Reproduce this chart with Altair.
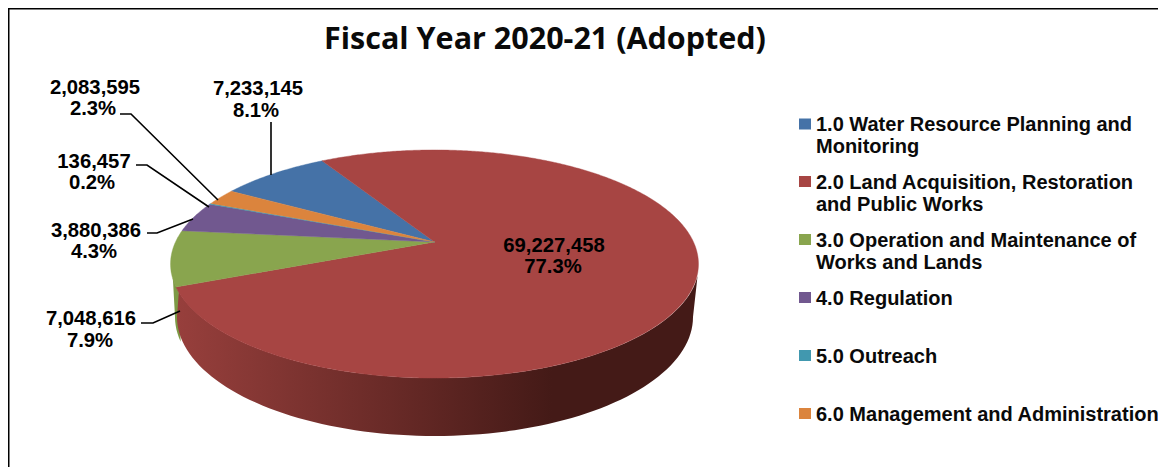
import math
import altair as alt
import pandas as pd

names = ["1.0 Water Resource Planning and Monitoring",
         "2.0 Land Acquisition, Restoration and Public Works",
         "3.0 Operation and Maintenance of Works and Lands",
         "4.0 Regulation", "5.0 Outreach", "6.0 Management and Administration"]
values = [7233145, 69227458, 7048616, 3880386, 136457, 2083595]
colors = ["#4572A7", "#A74543", "#89A54E", "#71588F", "#4198AF", "#DB843D"]
legend_lines = [["1.0 Water Resource Planning and", "Monitoring"],
                ["2.0 Land Acquisition, Restoration", "and Public Works"],
                ["3.0 Operation and Maintenance of", "Works and Lands"],
                ["4.0 Regulation"], ["5.0 Outreach"], ["6.0 Management and Administration"]]
title_text = "Fiscal Year 2020-21 (Adopted)"

W, H = 1150, 459
total = sum(values)
X = alt.X("x:Q", scale=alt.Scale(domain=[8, 8 + W], nice=False, zero=False), axis=None)
Y = alt.Y("y:Q", scale=alt.Scale(domain=[8 + H, 8], nice=False, zero=False), axis=None)

# perspective view of the pie disc
CX, CY, A, B, K = 434.5, 242, 259, 109.8, 0.193
START = -59.5


def rim(deg):
    a = math.radians(deg)
    u, v = math.sin(a), -math.cos(a)
    w = 1 / (1 - K * v)
    return CX + A * u * w, CY + B * v * w


rows = []
ang = START
for n, val in zip(names, values):
    sweep = val / total * 360
    pts = [(CX, CY)]
    steps = max(2, int(sweep) * 2)
    pts += [rim(ang + sweep * j / steps) for j in range(steps + 1)]
    pts.append((CX, CY))
    for i, (x, y) in enumerate(pts):
        rows.append({"name": n, "i": i, "x": x, "y": y})
    ang += sweep
top = alt.Chart(pd.DataFrame(rows)).mark_line(strokeWidth=0.4, strokeCap="round").encode(
    x=X, y=Y, order="i:Q",
    fill=alt.Fill("name:N", scale=alt.Scale(domain=names, range=colors), legend=None),
    stroke=alt.Stroke("name:N", scale=alt.Scale(domain=names, range=colors), legend=None))


# visible wall under the rim
def low(t, cy, rx, ry):
    return 435 + rx * math.cos(t), cy + ry * math.sin(t)


wall_pts = [low(math.radians(d), 317, 258, 119) for d in range(0, 181, 2)]
wall_pts += [low(math.radians(d), 264, 264, 114) for d in range(166, 5, -2)]
wall = alt.Chart(pd.DataFrame([{"i": i, "x": p[0], "y": p[1]} for i, p in enumerate(wall_pts)])).mark_line(
    strokeOpacity=0,
    fill=alt.Gradient(gradient="linear", x1=0, x2=1, y1=0, y2=0, stops=[
        alt.GradientStop(color="#973f3c", offset=0),
        alt.GradientStop(color="#642825", offset=0.45),
        alt.GradientStop(color="#441a17", offset=0.72),
        alt.GradientStop(color="#441a17", offset=1)])
).encode(x=X, y=Y, order="i:Q")

sliver_pts = [low(math.radians(d), 264, 264, 114) for d in range(166, 186, 2)]
sliver_pts += [low(math.radians(d), 317, 260, 119) for d in range(180, 166, -2)]
sliver = alt.Chart(pd.DataFrame([{"i": i, "x": p[0], "y": p[1]} for i, p in enumerate(sliver_pts)])).mark_line(
    strokeOpacity=0, fill="#7d9a45").encode(x=X, y=Y, order="i:Q")

# leader lines
leaders = [
    [(271, 122), (271, 175)],
    [(120, 114), (131, 114), (218, 200)],
    [(136, 165), (147, 165), (209, 207)],
    [(147, 233), (157, 233), (193, 219)],
    [(141, 323), (153, 323), (180, 311)],
]
lrows = [{"k": k, "i": i, "x": x, "y": y} for k, l in enumerate(leaders) for i, (x, y) in enumerate(l)]
leader = alt.Chart(pd.DataFrame(lrows)).mark_line(color="black", strokeWidth=1.6).encode(
    x=X, y=Y, detail="k:N", order="i:Q")

# data labels
label_pos = {0: [(258, 89), (256, 111)], 1: [(554, 246), (553, 267)], 2: [(91, 319), (90, 341)],
             3: [(96, 231), (94, 252)], 4: [(94, 162), (92, 183)], 5: [(95, 88), (93, 109)]}
trows = []
for k, val in enumerate(values):
    trows.append({"t": f"{val:,}", "x": label_pos[k][0][0], "y": label_pos[k][0][1]})
    trows.append({"t": f"{val / total:.1%}", "x": label_pos[k][1][0], "y": label_pos[k][1][1]})
labels = alt.Chart(pd.DataFrame(trows)).mark_text(
    font="Liberation Sans", fontWeight="bold", fontSize=20.3, color="black", baseline="middle"
).encode(x=X, y=Y, text="t:N")

# legend
swatch_y = [124, 181.5, 239.5, 297.5, 355.5, 413.5]
sw = pd.DataFrame([{"name": n, "x": 799, "x2": 811, "y": y - 5.5, "y2": y + 5.5} for n, y in zip(names, swatch_y)])
swatches = alt.Chart(sw).mark_rect().encode(
    x=X, x2="x2:Q", y=Y, y2="y2:Q",
    color=alt.Color("name:N", scale=alt.Scale(domain=names, range=colors), legend=None))
leg_y = [(124.5, 146.5), (182.5, 204.5), (240.5, 262.5), (298.5,), (356.5,), (414.5,)]
lt = pd.DataFrame([{"t": s, "x": 816, "y": y} for ls, ys in zip(legend_lines, leg_y) for s, y in zip(ls, ys)])
legend_text = alt.Chart(lt).mark_text(
    font="Liberation Sans", fontWeight="bold", fontSize=20, color="#0a0a0a", align="left", baseline="middle"
).encode(x=X, y=Y, text="t:N")

# frame, cut by the picture's left and top edge
frame_left = alt.Chart(pd.DataFrame({"a": [0]})).mark_rect(color="black").encode(
    x=alt.value(0), x2=alt.value(1.5), y=alt.value(0), y2=alt.value(H))
frame_top = alt.Chart(pd.DataFrame({"a": [0]})).mark_rect(color="black").encode(
    x=alt.value(0), x2=alt.value(W), y=alt.value(0), y2=alt.value(1.5))

chart = alt.layer(sliver, wall, top, leader, labels, swatches, legend_text, frame_left, frame_top).properties(
    width=W, height=H, padding=0, autosize=alt.AutoSizeParams(type="none"),
    title=alt.TitleParams(title_text, font="Open Sans", fontWeight="bold", fontSize=30.5, color="#0a0a0a",
                          anchor="middle", dx=-38, dy=71, baseline="alphabetic", offset=0)
).configure_view(stroke=None)

chart.save("out.html", embed_options={"renderer": "svg", "actions": False})
